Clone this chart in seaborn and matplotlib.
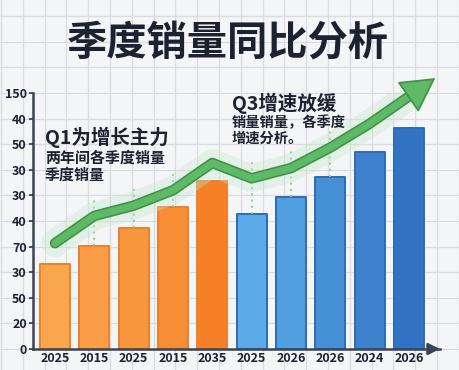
import numpy as np
import pandas as pd
import matplotlib
matplotlib.use("Agg")
import matplotlib.pyplot as plt
import seaborn as sns

# ---------------- data ----------------
title = "季度销量同比分析"
x_labels = ["2025", "2015", "2025", "2015", "2035", "2025", "2026", "2026", "2024", "2026"]
sales = [50, 60.5, 71, 83, 98.5, 79, 89, 101, 115.5, 129.5]
trend = [62, 78, 84, 93, 109, 100, 106, 118, 132, 148]
y_ticks = [0, 15, 30, 45, 60, 75, 90, 105, 120, 135, 150]
y_tick_labels = ["0", "20", "50", "30", "70", "40", "30", "30", "50", "40", "150"]
guide_bars = [1, 2, 3, 5, 6, 7]
note1_title = "Q1为增长主力"
note1_lines = ["两年间各季度销量", "季度销量"]
note2_title = "Q3增速放缓"
note2_lines = ["销量销量，各季度", "增速分析。"]

bar_colors = ["#FAA64F", "#F99E46", "#F8963D", "#F78D34", "#F58028",
              "#5CAAE8", "#519EE0", "#4590D6", "#3C82CD", "#3172C3"]
edge_colors = ["#EC7F2A"] * 5 + ["#2F6BB7"] * 5

# ---------------- style ----------------
sns.set_theme(style="white")
plt.rcParams["font.family"] = ["Noto Sans CJK SC", "DejaVu Sans"]
dark = "#1c2230"
axis_col = "#3a4456"

fig = plt.figure(figsize=(4.6, 3.7), dpi=100)
fig.patch.set_facecolor("#f4f5f7")

# background graph-paper grid (pixel coordinates)
bg = fig.add_axes([0, 0, 1, 1], zorder=-5)
bg.set_xlim(0, 460)
bg.set_ylim(370, 0)
bg.axis("off")
for gx in np.arange(1, 461, 21.8):
    bg.axvline(gx, color="#d9dce1", lw=0.9)
for k in range(-1, 15):
    bg.axhline(349 - 25.6 * k, color="#d9dce1", lw=0.9)

ax = fig.add_axes([33 / 460, 21 / 370, 407 / 460, 256 / 370])
ax.patch.set_alpha(0)

idx = np.arange(len(sales))
df = pd.DataFrame({"slot": idx, "sales": sales, "trend": trend})

sns.barplot(data=df, x="slot", y="sales", hue="slot", palette=bar_colors,
            legend=False, width=0.76, saturation=1, ax=ax, zorder=2)
for p, ec in zip(ax.patches, edge_colors):
    p.set_edgecolor(ec)
    p.set_linewidth(1.4)
    p.set_joinstyle("round")

# dotted guides from bar tops to the trend line
for i in guide_bars:
    ax.plot([i, i], [sales[i], trend[i] + 10], color="#8cc79a", lw=1.4,
            ls=(0, (1, 2.2)), zorder=2.5)

# trend line with glow
sns.lineplot(data=df, x="slot", y="trend", ax=ax, color="#c6e9ca", lw=20,
             alpha=0.35, zorder=3, solid_capstyle="round", solid_joinstyle="round")
sns.lineplot(data=df, x="slot", y="trend", ax=ax, color="#3f9449", lw=7.6,
             zorder=4, solid_capstyle="round", solid_joinstyle="round")
sns.lineplot(data=df, x="slot", y="trend", ax=ax, color="#5fba67", lw=5.2,
             zorder=5, solid_capstyle="round", solid_joinstyle="round")

# arrow head continuing the last segment
x0, y0 = idx[-2], trend[-2]
x1, y1 = idx[-1], trend[-1]
tip = (x1 + 0.67 * (x1 - x0), y1 + 0.67 * (y1 - y0))
ax.annotate("", xy=tip, xytext=(x1, y1), annotation_clip=False, zorder=6,
            arrowprops=dict(arrowstyle="-|>,head_length=1.0,head_width=0.55",
                            mutation_scale=22, fc="#5fba67", ec="#3f9449",
                            lw=1.3, shrinkA=0, shrinkB=0))

ax.set_xlim(-0.56, 9.79)
ax.set_ylim(0, 150)
ax.set_yticks(y_ticks)
ax.set_yticklabels(y_tick_labels)
ax.set_xticks(idx)
ax.set_xticklabels(x_labels)
ax.set_xlabel("")
ax.set_ylabel("")
ax.tick_params(axis="y", length=3, width=1.3, color=axis_col, pad=1.5,
               labelsize=9, labelcolor=dark, direction="out", left=True)
ax.tick_params(axis="x", length=0, pad=2.5, labelsize=9, labelcolor=dark)
for lab in ax.get_xticklabels() + ax.get_yticklabels():
    lab.set_fontweight("bold")
for s in ["top", "right"]:
    ax.spines[s].set_visible(False)
for s in ["left", "bottom"]:
    ax.spines[s].set_color(axis_col)
    ax.spines[s].set_linewidth(1.8)
ax.spines["bottom"].set_zorder(7)
ax.annotate("", xy=(1.0, 0), xycoords="axes fraction", xytext=(0.97, 0),
            annotation_clip=False,
            arrowprops=dict(arrowstyle="-|>,head_length=0.7,head_width=0.35",
                            mutation_scale=10, color=axis_col, lw=1.8,
                            shrinkA=0, shrinkB=0))

# ---------------- texts ----------------
fig.text(0.496, 0.881, title, ha="center", va="center", fontsize=29,
         fontweight="heavy", color=dark)
fig.text(45 / 460, (370 - 137) / 370, note1_title, ha="left", va="center",
         fontsize=14, fontweight="bold", color=dark)
for t, yp in zip(note1_lines, [158, 175]):
    fig.text(45 / 460, (370 - yp) / 370, t, ha="left", va="center",
             fontsize=10.8, fontweight="bold", color=dark)
fig.text(232 / 460, (370 - 103) / 370, note2_title, ha="left", va="center",
         fontsize=14, fontweight="bold", color=dark)
for t, yp in zip(note2_lines, [123, 139]):
    fig.text(232 / 460, (370 - yp) / 370, t, ha="left", va="center",
             fontsize=10.3, fontweight="bold", color=dark)

fig.savefig("out.png", dpi=100, facecolor=fig.get_facecolor())
